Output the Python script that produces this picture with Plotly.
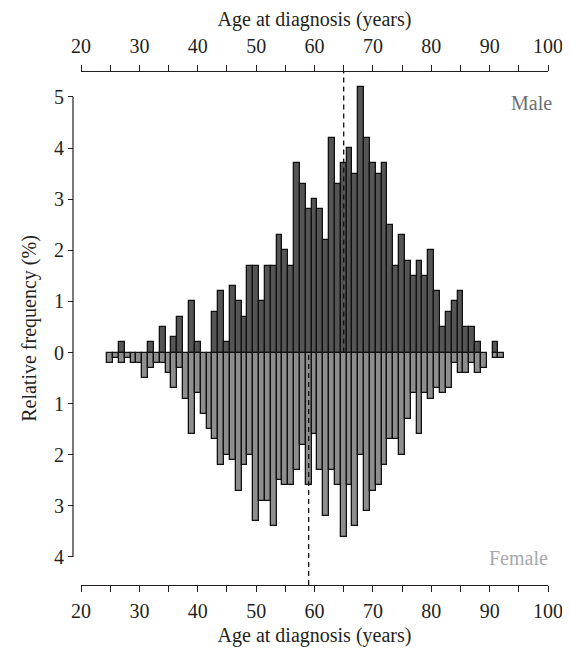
import plotly.graph_objects as go

# ---- data ----
ages = list(range(25, 93))
male = [0, 0, 0.2, 0, 0, 0, 0, 0.2, 0, 0.5,
        0, 0.3, 0.7, 0, 1.0, 0.2, 0, 0, 0.8, 1.2,
        0.2, 1.3, 1.0, 0.7, 1.7, 1.7, 1.0, 1.7, 1.7, 2.3,
        2.0, 1.7, 3.7, 3.3, 2.8, 3.0, 2.8, 2.2, 4.2, 3.3,
        3.7, 4.0, 3.5, 5.2, 4.2, 3.7, 3.5, 3.7, 2.5, 1.7,
        2.3, 1.8, 1.5, 1.8, 1.5, 2.0, 1.2, 0.5, 0.8, 1.0,
        1.2, 0.5, 0.5, 0.2, 0, 0, 0.2, 0]
female = [0.2, 0.1, 0.2, 0.1, 0.2, 0.2, 0.5, 0.3, 0.2, 0.2,
          0.4, 0.7, 0.3, 0.9, 1.6, 0.8, 1.2, 1.5, 1.7, 2.2,
          2.0, 2.1, 2.7, 2.2, 2.0, 3.3, 2.9, 2.9, 3.4, 2.5,
          2.6, 2.6, 2.3, 1.8, 2.6, 1.6, 2.3, 3.2, 2.3, 2.6,
          3.6, 2.6, 3.4, 2.0, 3.1, 2.7, 2.6, 2.2, 1.7, 1.7,
          2.0, 1.3, 0.8, 1.6, 0.8, 0.9, 0.7, 0.8, 0.7, 0.2,
          0.4, 0.4, 0.2, 0.4, 0.3, 0, 0.1, 0.1]
male_median = 65
female_median = 59

x_ticks = list(range(20, 101, 5))
x_labels = [str(v) if v % 10 == 0 else "" for v in x_ticks]
y_ticks = [5, 4, 3, 2, 1, 0, -1, -2, -3, -4]
y_labels = [str(abs(v)) for v in y_ticks]

# ---- layout geometry (page has an 8px body margin) ----
W, H = 554, 639
ml, mr, mt, mb = 62, 14, 64, 62
pw = W - ml - mr
x_dom0 = (73 - ml) / pw
y_pos = (65 - ml) / pw
y_range = [-4.548, 5.489]
zero_frac = (0 - y_range[0]) / (y_range[1] - y_range[0])

FONT = "Liberation Serif"
TXT = "#231f20"
FS = 20

male_plot = [v if v else None for v in male]
female_plot = [-v if v else None for v in female]

fig = go.Figure()
fig.add_trace(go.Bar(x=ages, y=male_plot, width=1,
                     marker=dict(color="#555555", line=dict(color="#111111", width=1.3)),
                     name="Male", showlegend=False))
fig.add_trace(go.Bar(x=ages, y=female_plot, width=1,
                     marker=dict(color="#8e8e8e", line=dict(color="#111111", width=1.3)),
                     name="Female", showlegend=False))
fig.add_trace(go.Scatter(x=[20, 100], y=[0, 0], xaxis="x2", yaxis="y",
                         mode="markers", marker=dict(opacity=0), showlegend=False,
                         hoverinfo="skip"))

axis_font = dict(family=FONT, size=FS, color=TXT)
common_x = dict(range=[20, 100], domain=[x_dom0, 1], tickvals=x_ticks, ticktext=x_labels,
                ticks="outside", ticklen=6, tickwidth=1.2, tickcolor=TXT,
                showline=True, linecolor=TXT, linewidth=1.2, ticklabeloverflow="allow",
                automargin=False, showgrid=False, zeroline=False, tickfont=axis_font)
fig.update_layout(
    width=W, height=H,
    margin=dict(l=ml, r=mr, t=mt, b=mb, autoexpand=False),
    paper_bgcolor="white", plot_bgcolor="white",
    barmode="overlay", bargap=0,
    font=dict(family=FONT, color=TXT),
    xaxis=dict(**common_x, anchor="y", ticklabelstandoff=2,
               title=dict(text="Age at diagnosis (years)", font=axis_font, standoff=9)),
    xaxis2=dict(**common_x, overlaying="x", side="top", anchor="y", ticklabelstandoff=4,
                title=dict(text="Age at diagnosis (years)", font=axis_font, standoff=11)),
    yaxis=dict(range=y_range, tickvals=y_ticks, ticktext=y_labels,
               anchor="free", position=y_pos, automargin=False,
               ticks="outside", ticklen=5, tickwidth=1.2, tickcolor=TXT,
               showline=False, showgrid=False, zeroline=False, tickfont=axis_font,
               title=dict(text="Relative frequency (%)", font=axis_font, standoff=11)),
)

fig.add_shape(type="line", xref="paper", yref="y", x0=y_pos, x1=y_pos,
              y0=y_ticks[-1], y1=y_ticks[0], line=dict(color=TXT, width=1.2))
fig.add_shape(type="line", xref="x", yref="paper", x0=male_median, x1=male_median,
              y0=zero_frac, y1=1,
              line=dict(color="#111111", width=1.3, dash="5px,4px"), layer="above")
fig.add_shape(type="line", xref="x", yref="paper", x0=female_median, x1=female_median,
              y0=0, y1=zero_frac,
              line=dict(color="#111111", width=1.3, dash="5px,4px"), layer="above")

fig.add_annotation(x=1, y=4.88, xref="paper", yref="y", text="Male", showarrow=False,
                   xanchor="right", yanchor="middle", xshift=6,
                   font=dict(family=FONT, size=FS, color="#6d6e71"))
fig.add_annotation(x=1, y=-4.02, xref="paper", yref="y", text="Female", showarrow=False,
                   xanchor="right", yanchor="middle", xshift=2,
                   font=dict(family=FONT, size=FS, color="#a7a9ac"))

fig.write_html("out.html")
